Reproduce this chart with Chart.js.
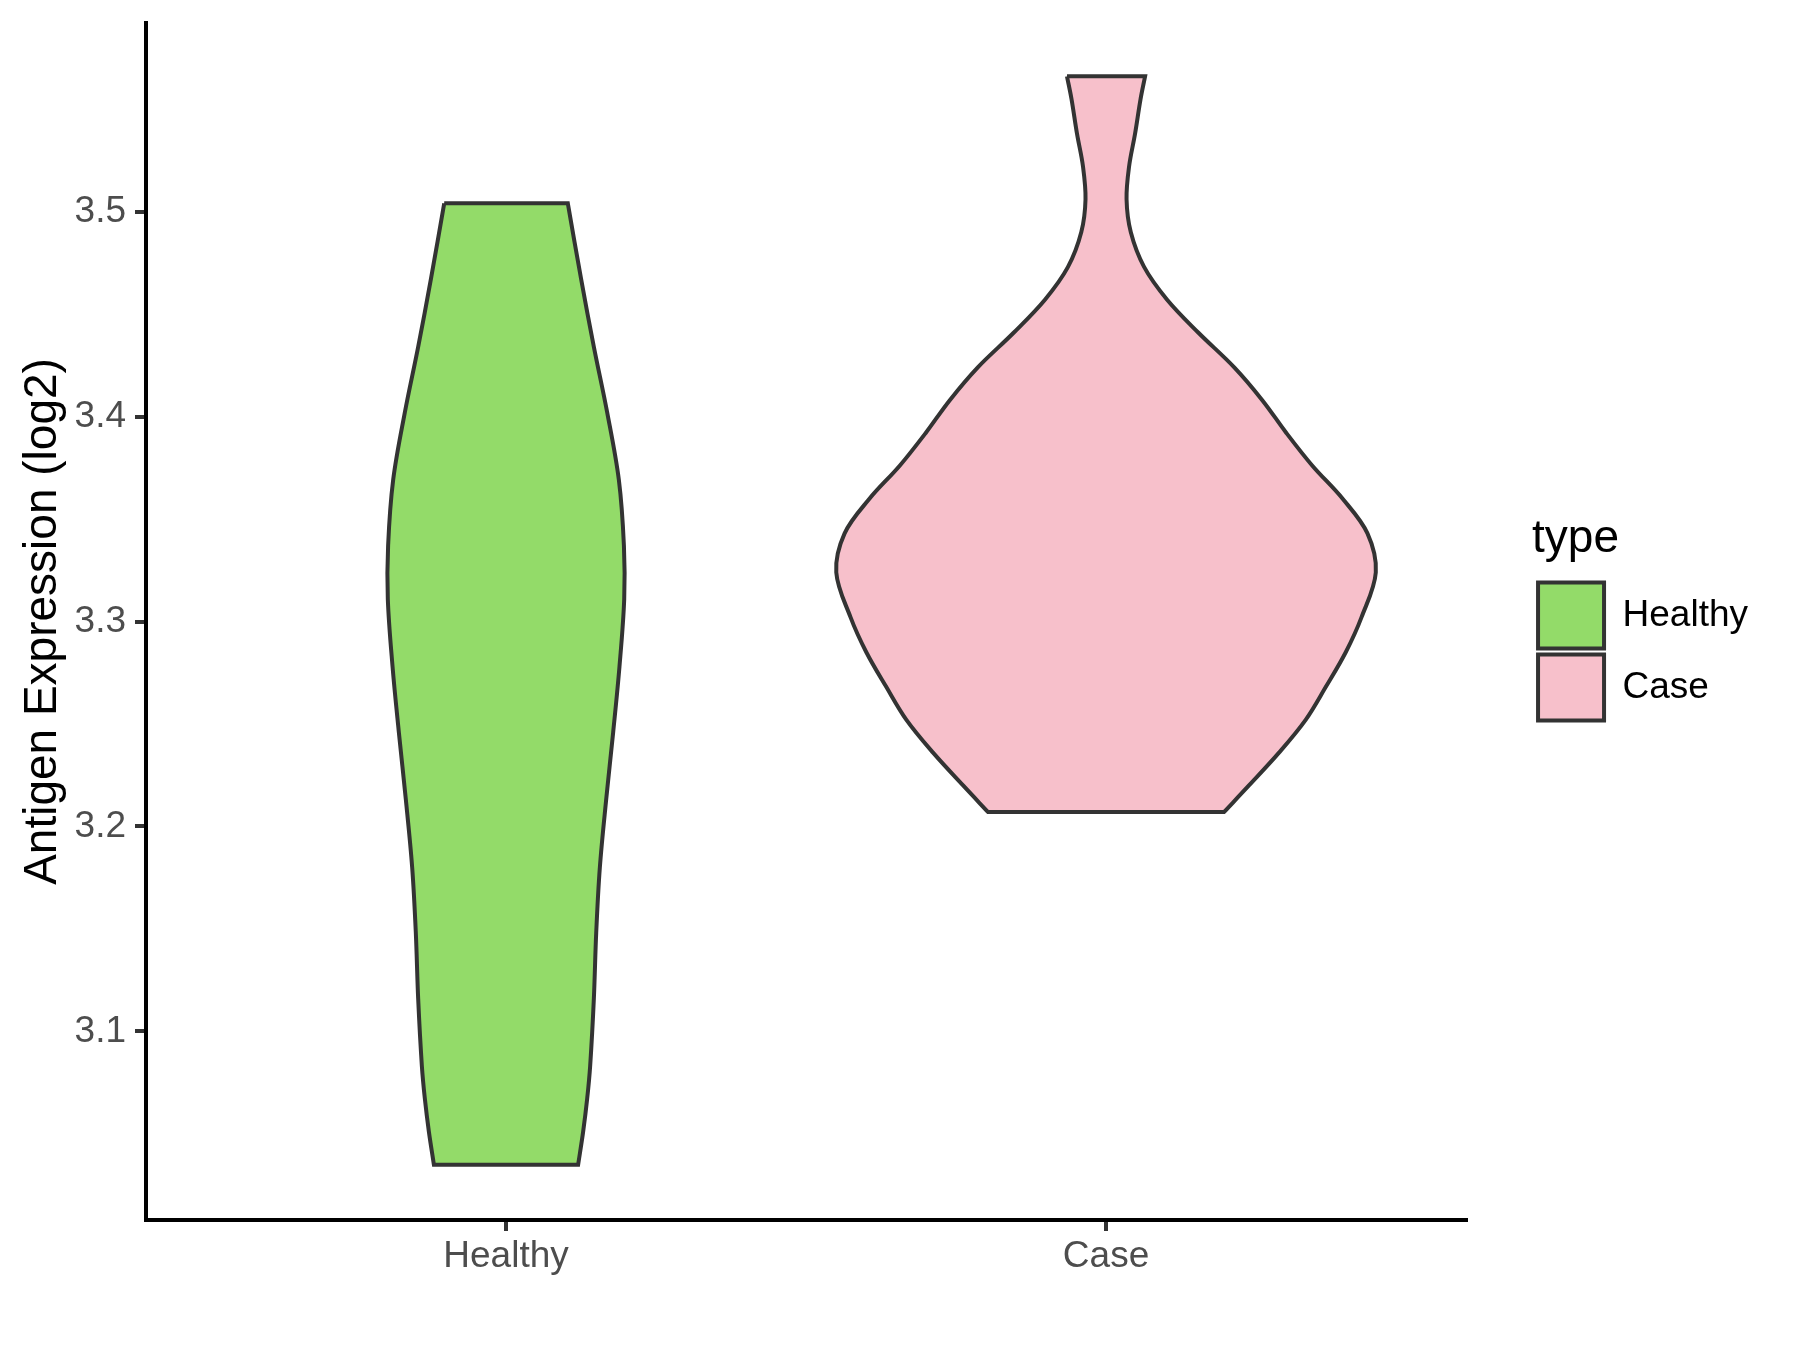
<!DOCTYPE html>
<html lang="en">
<head>
    <meta charset="UTF-8">
    <title>Antigen Expression</title>
    <style>
        * { margin: 0; padding: 0; box-sizing: border-box; }
        body { background: #ffffff; }
        #chart { display: block; }
    </style>
</head>
<body>
    <canvas id="chart" width="1800" height="1350"></canvas>

    <script src="https://cdn.jsdelivr.net/npm/chart.js@4.4.1/dist/chart.umd.min.js"></script>
    <script>
        // Categories and their positions on the x axis
        const categories = ['Healthy', 'Case'];
        const categoryPos = [1, 2];
        const fillColors = ['#93DB69', '#F7C0CB'];
        const yTicks = [3.1, 3.2, 3.3, 3.4, 3.5];

        // Violin outlines: expression value and half width
        const healthyValues = [3.504, 3.467, 3.434, 3.402, 3.369, 3.337, 3.311, 3.278, 3.246, 3.213,
                               3.180, 3.148, 3.116, 3.083, 3.067, 3.051, 3.035];
        const healthyHalfWidth = [0.103, 0.1252, 0.1464, 0.1686, 0.1881, 0.1965, 0.197, 0.1891, 0.1786, 0.1669,
                                  0.1564, 0.1503, 0.1464, 0.1402, 0.1352, 0.1285, 0.1202];

        const caseValues = [3.566, 3.555, 3.538, 3.522, 3.506, 3.490, 3.473, 3.457, 3.441, 3.424, 3.408, 3.392,
                            3.376, 3.360, 3.343, 3.324, 3.302, 3.285, 3.268, 3.252, 3.236, 3.220, 3.207];
        const caseHalfWidth = [0.0651, 0.0576, 0.0484, 0.0384, 0.0342, 0.0412, 0.0634, 0.1018, 0.1536, 0.2137, 0.2604, 0.3005,
                               0.3439, 0.394, 0.4357, 0.4496, 0.4257, 0.3995, 0.3661, 0.3327, 0.2883, 0.2382, 0.1965];

        // closed outline: down the left side, up the right side
        // corners are doubled so the smoothing keeps the flat ends sharp
        function violinPoints(center, values, halfWidths) {
            const left = values.map((v, i) => ({ x: center - halfWidths[i], y: v }));
            const right = values.map((v, i) => ({ x: center + halfWidths[i], y: v })).reverse();
            return [left[0], ...left, left[left.length - 1], right[0], ...right, right[right.length - 1], left[0]];
        }

        const outline = '#333333';
        const font = '"Liberation Sans", Arial, sans-serif';

        const datasets = [
            { values: healthyValues, widths: healthyHalfWidth },
            { values: caseValues, widths: caseHalfWidth }
        ].map((d, i) => ({
            label: categories[i],
            data: violinPoints(categoryPos[i], d.values, d.widths),
            showLine: true,
            fill: 'shape',
            backgroundColor: fillColors[i],
            borderColor: outline,
            borderWidth: 4,
            pointRadius: 0,
            tension: 0.35
        }));

        new Chart(document.getElementById('chart'), {
            type: 'scatter',
            data: { datasets: datasets },
            options: {
                responsive: false,
                animation: false,
                layout: { padding: { top: 23, left: 0, right: 42, bottom: 0 } },
                plugins: {
                    tooltip: { enabled: false },
                    legend: {
                        position: 'right',
                        fullSize: false,
                        maxWidth: 300,
                        title: {
                            display: true,
                            text: 'type',
                            position: 'start',
                            color: '#000000',
                            font: { family: font, size: 46 },
                            padding: { top: 0, bottom: 5 }
                        },
                        labels: {
                            boxWidth: 66,
                            boxHeight: 66,
                            padding: 6,
                            color: '#000000',
                            font: { family: font, size: 37 }
                        }
                    }
                },
                scales: {
                    x: {
                        type: 'linear',
                        min: 0.4,
                        max: 2.6,
                        afterBuildTicks: s => { s.ticks = categoryPos.map(v => ({ value: v })); },
                        afterFit: s => { s.height = 130; },
                        grid: { display: true, drawOnChartArea: false, drawTicks: true, tickLength: 11, color: outline, lineWidth: 4 },
                        border: { display: true, color: '#000000', width: 4 },
                        ticks: {
                            padding: 4,
                            color: '#4D4D4D',
                            font: { family: font, size: 37 },
                            callback: v => categories[categoryPos.indexOf(v)]
                        }
                    },
                    y: {
                        type: 'linear',
                        min: 3.008,
                        max: 3.592,
                        afterBuildTicks: s => { s.ticks = yTicks.map(v => ({ value: v })); },
                        afterFit: s => { s.width = 146; },
                        grid: { display: true, drawOnChartArea: false, drawTicks: true, tickLength: 11, color: outline, lineWidth: 4 },
                        border: { display: true, color: '#000000', width: 4 },
                        ticks: {
                            padding: 9,
                            color: '#4D4D4D',
                            // small line height keeps the top label from pushing the plot down
                            font: { family: font, size: 37, lineHeight: 0.7 },
                            callback: v => v.toFixed(1)
                        },
                        title: {
                            display: true,
                            text: 'Antigen Expression (log2)',
                            color: '#000000',
                            font: { family: font, size: 46 },
                            padding: { top: 16, bottom: 0 }
                        }
                    },
                    // empty spacer between the plot and the legend
                    gap: {
                        type: 'linear',
                        position: 'right',
                        display: true,
                        afterFit: s => { s.width = 66; },
                        grid: { display: false },
                        border: { display: false },
                        ticks: { display: false }
                    }
                }
            }
        });
    </script>
</body>
</html>
